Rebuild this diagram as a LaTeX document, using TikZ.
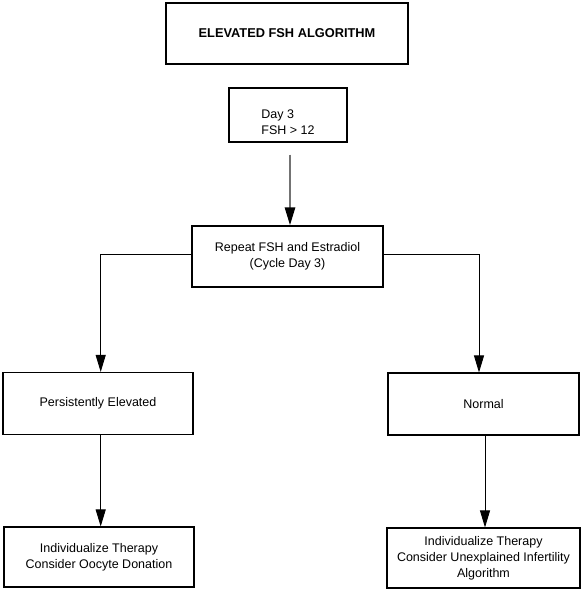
\documentclass[tikz,border=0pt]{standalone}
\usepackage{fontspec}
\setmainfont{Liberation Sans}
\usetikzlibrary{arrows.meta,calc}
\begin{document}
\begin{tikzpicture}[x=1pt,y=-1pt,
  box/.style={draw=black,line width=1.1pt,rectangle,inner sep=0pt,align=center,
    font=\fontsize{12.5}{16}\selectfont},
  txt/.style={inner sep=0pt,align=center,font=\fontsize{12.5}{16}\selectfont},
  arr/.style={draw=black,line width=0.9pt,-{Triangle[length=17pt,width=10pt]}},
  grayarr/.style={draw=black!55,line width=2.6pt,-{Triangle[length=18pt,width=10pt,color=black,fill=black]}}
]
\useasboundingbox[fill=white] (0,0) rectangle (581,591);
% nodes
\node[box,line width=1.9pt,minimum width=242pt,minimum height=61pt,
  font=\fontsize{12.8}{16}\selectfont\bfseries] (title) at (287,33.5) {ELEVATED FSH ALGORITHM};
\node[box,minimum width=118pt,minimum height=54pt] (day3) at (288,115) {};
\node[txt,align=left] (day3t) at (288,122.5) {Day 3\\FSH > 12};
\node[box,minimum width=191pt,minimum height=61pt] (repeat) at (287.5,256.5) {Repeat FSH and Estradiol\\(Cycle Day 3)};
\node[box,minimum width=190pt,minimum height=62pt] (pe) at (98,403.5) {Persistently Elevated};
\node[box,minimum width=191pt,minimum height=62pt] (normal) at (483.5,404) {Normal};
\node[box,minimum width=190pt,minimum height=60pt] (ido) at (99,557) {Individualize Therapy\\Consider Oocyte Donation};
\node[box,minimum width=193pt,minimum height=60pt] (iua) at (483.5,558) {Individualize Therapy\\Consider Unexplained Infertility\\Algorithm};
% connectors
\coordinate (g1) at ($(day3.south)+(2,12)$);
\draw[grayarr] (g1) -- (g1 |- repeat.north);
\draw[arr] ([yshift=2.5pt]repeat.west) -| ([xshift=2.7pt]pe.north);
\draw[arr] ([yshift=2.5pt]repeat.east) -| ([xshift=-4.5pt]normal.north);
\draw[arr] ([xshift=2.7pt]pe.south) -- ([xshift=2.7pt]pe.south |- ido.north);
\draw[arr] ([xshift=1.5pt]normal.south) -- ([xshift=1.5pt]normal.south |- iua.north);
\end{tikzpicture}
\end{document}
